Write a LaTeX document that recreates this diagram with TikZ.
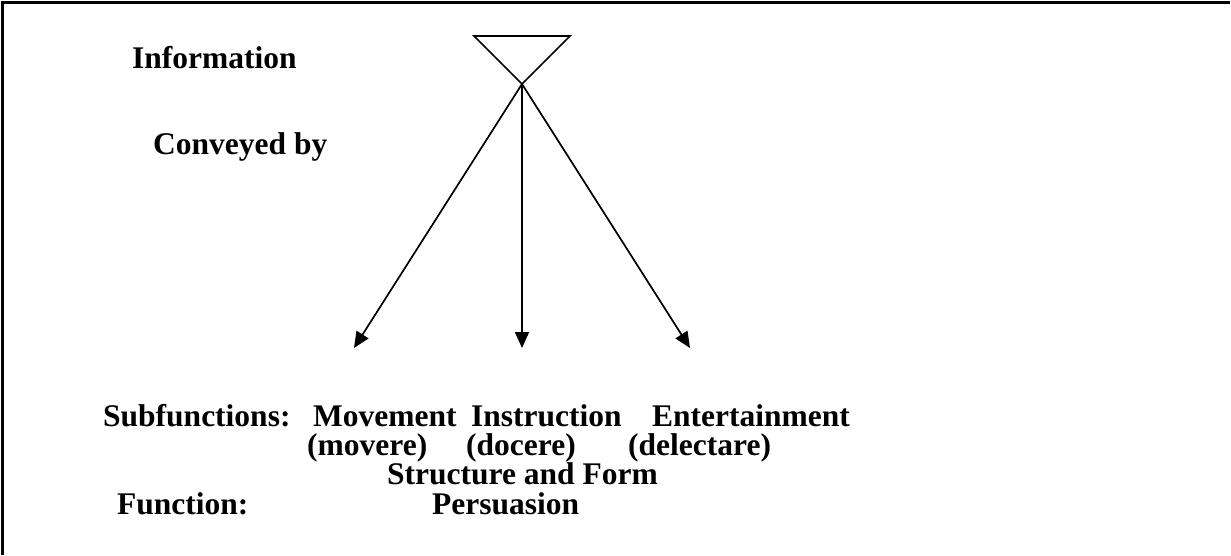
\documentclass[tikz,border=0pt]{standalone}
\usepackage{fontspec}
\setmainfont{Liberation Serif}
\usetikzlibrary{arrows.meta}
\tikzset{
  lbl/.style={anchor=base west, inner sep=0pt, font=\fontsize{31.5}{36}\selectfont\bfseries},
  conn/.style={line width=1.7pt, -{Triangle[length=16pt,width=14pt]}},
  frame/.style={line width=2.5pt},
}
\begin{document}
\begin{tikzpicture}[x=1pt,y=-1pt]
\useasboundingbox (0,0) rectangle (1231,555);
% frame (only top and left edges visible)
\draw[frame] (2.5,555) -- (2.5,2.5) -- (1230,2.5);
% funnel triangle
\coordinate (tl) at (474,36);
\coordinate (tr) at (570,36);
\coordinate (apex) at (522,84);
\draw[line width=1.7pt, line join=miter] (tl) -- (tr) -- (apex) -- cycle;
% arrow targets
\coordinate (tm) at (354,348);
\coordinate (ti) at (522,348);
\coordinate (te) at (690,348);
\draw[conn] (apex) -- (tm);
\draw[conn] (apex) -- (ti);
\draw[conn] (apex) -- (te);
% labels
\node[lbl] (info) at (132,68) {Information};
\node[lbl] (conv) at (153,154) {Conveyed by};
\node[lbl] (subf) at (103,426) {Subfunctions:};
\node[lbl] (mov) at (313,426) {Movement};
\node[lbl] (ins) at (471,426) {Instruction};
\node[lbl] (ent) at (652,426) {Entertainment};
\node[lbl] (movl) at (307,455) {(movere)};
\node[lbl] (insl) at (466,455) {(docere)};
\node[lbl] (entl) at (628,455) {(delectare)};
\node[lbl] (sf) at (387,484) {Structure and Form};
\node[lbl] (fun) at (117,514) {Function:};
\node[lbl] (pers) at (432,514) {Persuasion};
\end{tikzpicture}
\end{document}
